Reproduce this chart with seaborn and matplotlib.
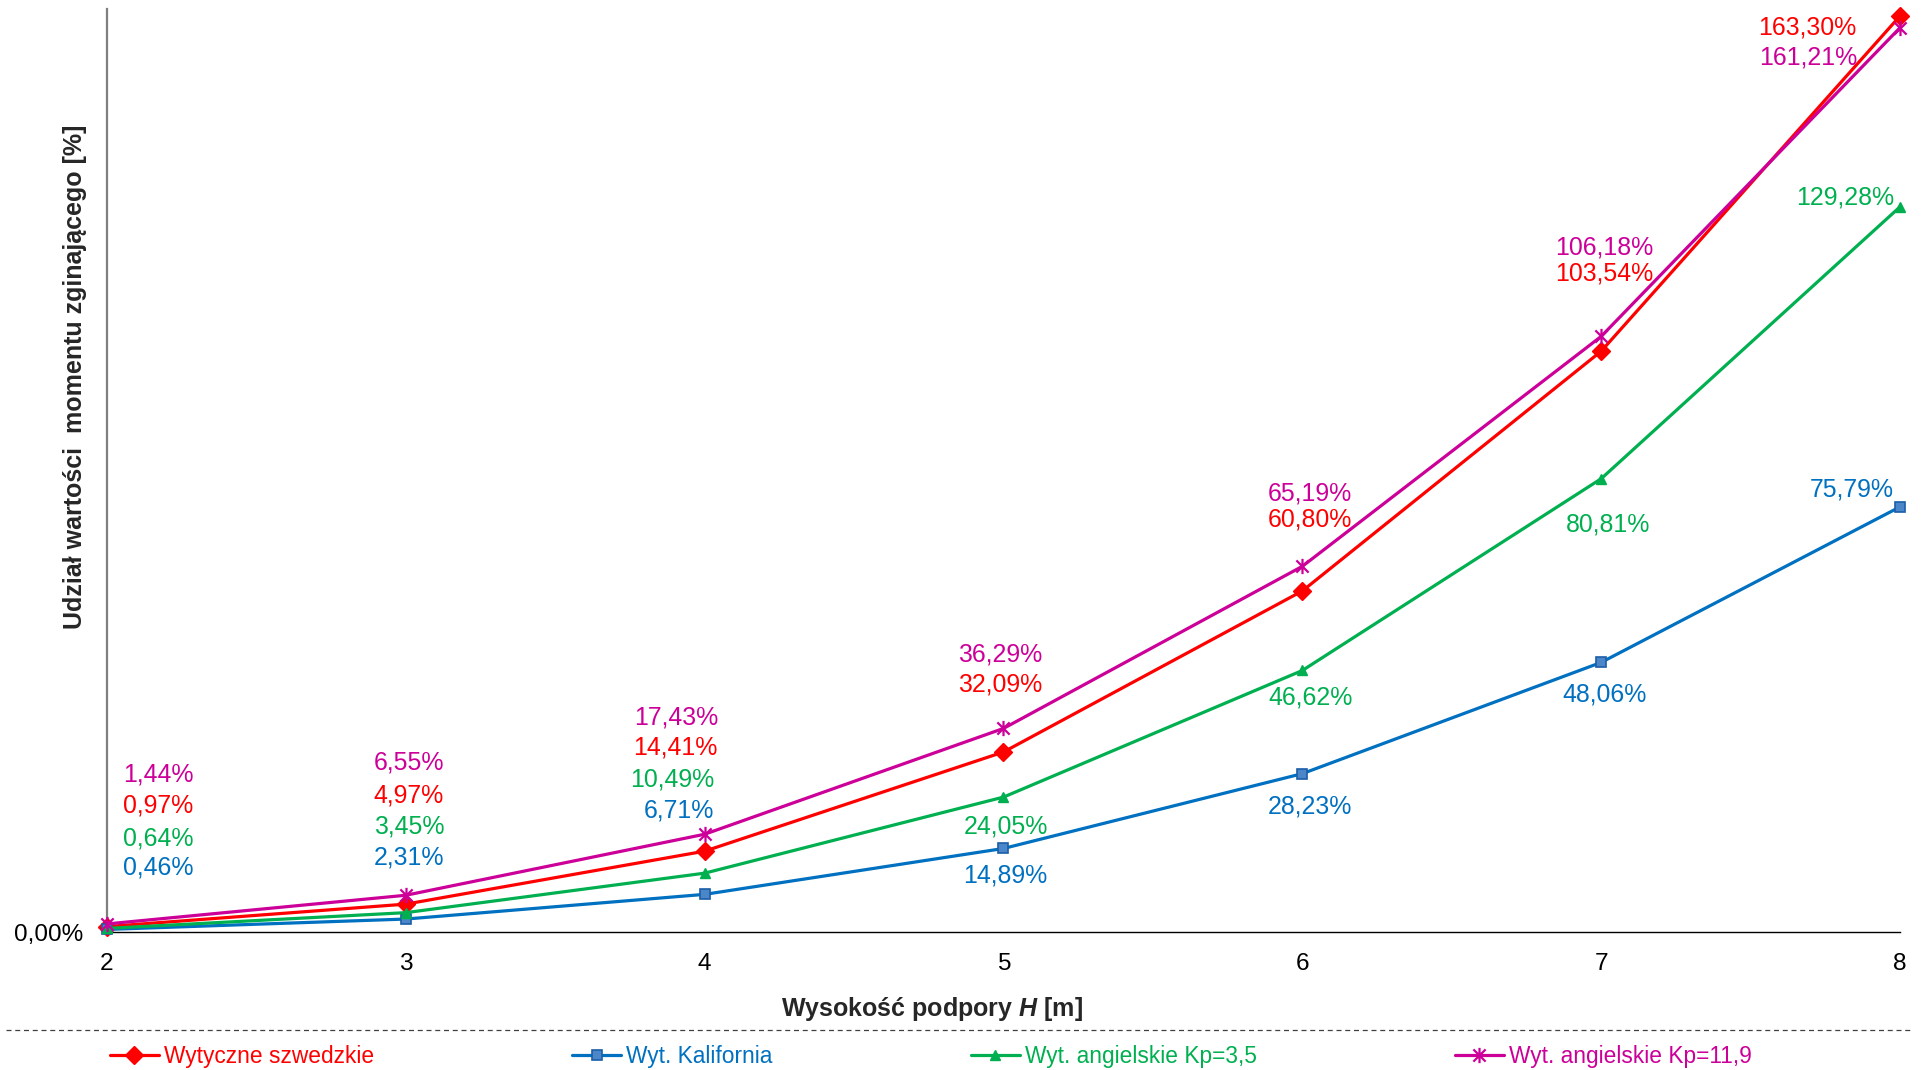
import matplotlib
matplotlib.use("Agg")
import matplotlib.pyplot as plt
from matplotlib.path import Path
from matplotlib.lines import Line2D
import seaborn as sns
import pandas as pd

# ---- data -------------------------------------------------------------
heights = [2, 3, 4, 5, 6, 7, 8]
swedish = [0.97, 4.97, 14.41, 32.09, 60.80, 103.54, 163.30]
california = [0.46, 2.31, 6.71, 14.89, 28.23, 48.06, 75.79]
english_35 = [0.64, 3.45, 10.49, 24.05, 46.62, 80.81, 129.28]
english_119 = [1.44, 6.55, 17.43, 36.29, 65.19, 106.18, 161.21]
series_names = ["Wytyczne szwedzkie", "Wyt. Kalifornia",
                "Wyt. angielskie Kp=3,5", "Wyt. angielskie Kp=11,9"]

# ---- style ------------------------------------------------------------
sns.set_theme(style="white")
plt.rcParams["font.family"] = ["Liberation Sans", "DejaVu Sans"]
plt.rcParams["mathtext.fontset"] = "custom"
plt.rcParams["mathtext.rm"] = "Liberation Sans"
plt.rcParams["mathtext.bf"] = "Liberation Sans:bold"
plt.rcParams["mathtext.it"] = "Liberation Sans:italic"
plt.rcParams["mathtext.bfit"] = "Liberation Sans:italic:bold"

# asterisk-like marker (x with a vertical stroke)
star = Path([(-1, -1), (1, 1), (-1, 1), (1, -1), (0, -1.25), (0, 1.25)],
            [Path.MOVETO, Path.LINETO, Path.MOVETO, Path.LINETO,
             Path.MOVETO, Path.LINETO])

styles = [
    dict(color="#FF0000", marker="D", markersize=9.5, mfc="#FF0000", mec="#FF0000", mew=1),
    dict(color="#0070C0", marker="s", markersize=6.5, mfc="#4A86C8", mec="#1A5EA8", mew=1.2),
    dict(color="#00B050", marker="^", markersize=7, mfc="#00B050", mec="#00B050", mew=1),
    dict(color="#CC0099", marker=star, markersize=11, mfc="none", mec="#CC0099", mew=1.6),
]

# label offsets in pixels (dx, dy) for every point of each series
label_offsets = [
    [(51, 121), (3, 109), (-29, 104), (-3, 67), (8, 71), (3, 78), (-93, -11)],
    [(51, 62), (3, 62), (-26, 84), (2, -27), (8, -33), (3, -32), (-48, 17)],
    [(51, 90), (3, 86), (-32, 94), (2, -29), (8, -27), (7, -46), (-55, 9)],
    [(51, 149), (3, 133), (-28, 117), (-3, 74), (8, 73), (3, 89), (-92, -30)],
]

fig = plt.figure(figsize=(19.23, 10.70), dpi=100)
ax = fig.add_axes([107 / 1923, 138 / 1070, 1793 / 1923, 923 / 1070])

all_values = [swedish, california, english_35, english_119]
handles = []
for name, vals, st in zip(series_names, all_values, styles):
    df = pd.DataFrame({"H": heights, "v": vals})
    sns.lineplot(data=df, x="H", y="v", ax=ax, color=st["color"], linewidth=2.3,
                 marker=st["marker"], markersize=st["markersize"],
                 markerfacecolor=st["mfc"], markeredgecolor=st["mec"],
                 markeredgewidth=st["mew"], clip_on=False, zorder=3)
    handles.append(Line2D([], [], color=st["color"], linewidth=2.3,
                          marker=st["marker"], markersize=st["markersize"],
                          markerfacecolor=st["mfc"], markeredgecolor=st["mec"],
                          markeredgewidth=st["mew"]))

# value labels
for vals, st, offs in zip(all_values, styles, label_offsets):
    for x, v, (dx, dy) in zip(heights, vals, offs):
        ax.annotate(f"{v:.2f}%".replace(".", ","), xy=(x, v), xytext=(dx, dy),
                    textcoords="offset pixels", ha="center", va="center",
                    fontsize=17.9, color=st["color"], zorder=4)

ax.set_xlim(2, 8)
ax.set_ylim(0, 164.55)
ax.set_xticks(heights)
ax.set_xticklabels([str(h) for h in heights])
ax.set_yticks([0])
ax.set_yticklabels(["0,00%"])
ax.tick_params(axis="x", length=0, pad=15, labelsize=17.6, colors="black")
ax.tick_params(axis="y", length=0, pad=17, labelsize=17.6, colors="black")

for side in ["top", "right"]:
    ax.spines[side].set_visible(False)
ax.spines["left"].set_color("#7F7F7F")
ax.spines["left"].set_linewidth(1.6)
ax.spines["bottom"].set_color("black")
ax.spines["bottom"].set_linewidth(1.0)
ax.grid(False)

ax.set_xlabel(r"Wysokość podpory $\mathbfit{H}$ [m]", fontsize=18,
              fontweight="bold", ha="center", va="top")
ax.xaxis.set_label_coords(0.460, -0.068)
ax.set_ylabel("Udział wartości  momentu zginającego [%]", fontsize=18,
              fontweight="bold", ha="center")
ax.yaxis.set_label_coords(-0.0112, 0.602)

# dashed separator above the legend
fig.add_artist(Line2D([6 / 1923, 1913 / 1923], [0.0374, 0.0374],
                      transform=fig.transFigure, color="#404040",
                      linewidth=0.9, linestyle=(0, (4, 3))))

fig.legend(handles, series_names, loc="center left",
           bbox_to_anchor=(110 / 1923, 0.013), ncol=4, frameon=False,
           borderpad=0, borderaxespad=0, handlelength=2.15, handletextpad=0.22,
           columnspacing=8.7, fontsize=16.4, labelcolor="linecolor", numpoints=1)

fig.savefig("out.png", dpi=100)
